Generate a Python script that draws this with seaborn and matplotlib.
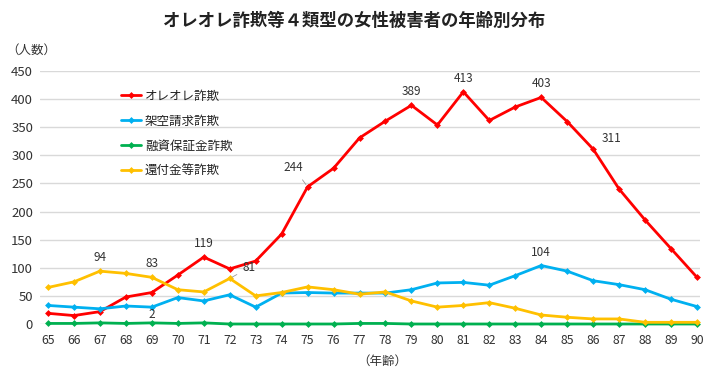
import matplotlib
matplotlib.use("Agg")
import matplotlib.pyplot as plt
import seaborn as sns

ages = list(range(65, 91))
oreore = [19, 15, 22, 48, 56, 87, 119, 98, 112, 160, 244, 277, 331, 361, 389,
          354, 413, 362, 386, 403, 360, 311, 240, 185, 134, 83]
kakuu = [33, 30, 27, 32, 30, 47, 41, 52, 30, 55, 56, 55, 55, 55, 61,
         73, 74, 69, 86, 104, 94, 77, 70, 61, 44, 31]
yushi = [1, 1, 2, 1, 2, 1, 2, 0, 0, 0, 0, 0, 1, 1, 0,
         0, 0, 0, 0, 0, 0, 0, 0, 0, 0, 0]
kanpu = [65, 75, 94, 90, 83, 61, 57, 81, 50, 56, 66, 61, 53, 57, 41,
         30, 33, 38, 28, 16, 12, 9, 9, 3, 3, 3]

names = ["オレオレ詐欺", "架空請求詐欺", "融資保証金詐欺", "還付金等詐欺"]
colors = ["#ff0000", "#00b0f0", "#00b050", "#ffc000"]
series = [oreore, kakuu, yushi, kanpu]

sns.set_style("white")
plt.rcParams["font.family"] = ["Noto Sans CJK JP", "DejaVu Sans"]

fig = plt.figure(figsize=(7.09, 3.71), dpi=100)
ax = fig.add_axes([40 / 709, (371 - 324) / 371, 660 / 709, 253 / 371])

for name, vals, c in zip(names, series, colors):
    sns.lineplot(x=ages, y=vals, ax=ax, color=c, lw=2, marker="D", markersize=3.5,
                 markeredgewidth=0, label=name, clip_on=False, zorder=3)

ax.set_xlim(65 - 8 / 26, 90 + 3 / 26)
ax.set_ylim(0, 450)
ax.set_xticks(ages)
ax.set_yticks(range(0, 451, 50))
ax.tick_params(length=0, labelsize=9.5, labelcolor="#333333")
ax.tick_params(axis="x", pad=7, labelsize=8.8)
ax.tick_params(axis="y", pad=5)
ax.grid(axis="y", color="#d9d9d9", lw=1)
for s in ax.spines.values():
    s.set_visible(False)
ax.set_xlabel("（年齢）", fontsize=9, color="#333333")
ax.xaxis.set_label_coords(342 / 660, -0.12)
ax.set_ylabel("")

fig.text(6 / 709, 1 - 50 / 371, "（人数）", fontsize=9, color="#333333", va="center")
fig.text(0.5, 1 - 21 / 371, "オレオレ詐欺等４類型の女性被害者の年齢別分布",
         ha="center", va="center", fontsize=12.5, fontweight="bold", color="#222222")

# data labels
lab = dict(fontsize=8.5, color="#333333", ha="center", va="bottom")
ax.annotate("94", (67, kanpu[2]), xytext=(0, 5), textcoords="offset points", **lab)
ax.annotate("83", (69, kanpu[4]), xytext=(0, 5), textcoords="offset points", **lab)
ax.annotate("119", (71, oreore[6]), xytext=(0, 5), textcoords="offset points", **lab)
ax.annotate("81", (72, kanpu[7]), xytext=(14, 3), textcoords="offset points",
            arrowprops=dict(arrowstyle="-", color="#999999", lw=0.6), **lab)
ax.annotate("244", (75, oreore[10]), xytext=(-10, 9), textcoords="offset points",
            arrowprops=dict(arrowstyle="-", color="#999999", lw=0.6), **lab)
ax.annotate("389", (79, oreore[14]), xytext=(0, 5), textcoords="offset points", **lab)
ax.annotate("413", (81, oreore[16]), xytext=(0, 5), textcoords="offset points", **lab)
ax.annotate("403", (84, oreore[19]), xytext=(0, 5), textcoords="offset points", **lab)
ax.annotate("311", (86, oreore[21]), xytext=(13, 3), textcoords="offset points", **lab)
ax.annotate("104", (84, kakuu[19]), xytext=(0, 5), textcoords="offset points", **lab)
ax.annotate("2", (69, yushi[4]), xytext=(0, 1.5), textcoords="offset points", **lab)

leg = ax.legend(loc="upper left", bbox_to_anchor=(70 / 660, 0.97), frameon=False,
                fontsize=9, handlelength=1.6, handletextpad=0.3, labelspacing=0.95,
                labelcolor="#222222")

fig.savefig("out.png", dpi=100)
